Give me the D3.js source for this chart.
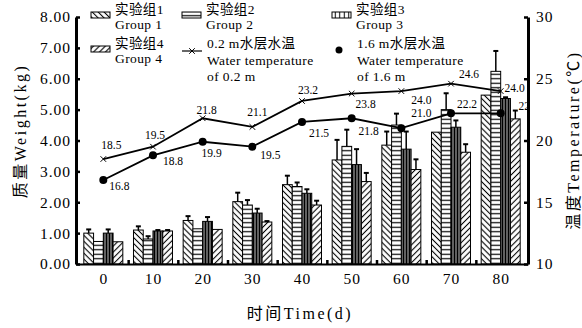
<!DOCTYPE html>
<html>
<head>
<meta charset="utf-8">
<script src="https://cdn.jsdelivr.net/npm/d3@7"></script>
<style>
	body { margin: 0; background: #fff; }
	svg text { font-family: "Liberation Serif", "Noto Sans CJK SC", serif; fill: #000; }
</style>
</head>
<body>
<div id="chart"></div>
<script>
// time (d)
var days = [0, 10, 20, 30, 40, 50, 60, 70, 80];
var xTicks = [0, 10, 20, 30, 40, 50, 60, 70, 80];
var xMidTicks = [5, 15, 25, 35, 45, 55, 65, 75];

// weight (kg), one list per group
var weight1 = [1.00, 1.10, 1.41, 2.02, 2.57, 3.37, 3.85, 4.27, 5.47];
var weight2 = [0.73, 0.81, 1.14, 1.91, 2.51, 3.81, 4.50, 5.00, 6.24];
var weight3 = [1.00, 1.07, 1.38, 1.65, 2.29, 3.22, 3.72, 4.43, 5.36];
var weight4 = [0.72, 1.07, 1.12, 1.36, 1.91, 2.67, 3.06, 3.62, 4.70];

// error bars (upper only)
var err1 = [0.12, 0.12, 0.14, 0.29, 0.29, 0.65, 0.44, 0.00, 0.00];
var err2 = [0.00, 0.09, 0.00, 0.16, 0.13, 0.54, 0.37, 0.53, 0.66];
var err3 = [0.12, 0.03, 0.14, 0.14, 0.13, 0.50, 0.57, 0.22, 0.04];
var err4 = [0.00, 0.03, 0.00, 0.03, 0.14, 0.28, 0.33, 0.26, 0.27];

// water temperature (℃)
var temp02 = [18.5, 19.5, 21.8, 21.1, 23.2, 23.8, 24.0, 24.6, 24.0];
var temp16 = [16.8, 18.8, 19.9, 19.5, 21.5, 21.8, 21.0, 22.2, 22.2];

// tick labels
var weightTicks = [0, 1, 2, 3, 4, 5, 6, 7, 8];
var tempTicks = [10, 15, 20, 25, 30];

var groupZh = ["实验组1", "实验组2", "实验组3", "实验组4"];
var groupEn = ["Group 1", "Group 2", "Group 3", "Group 4"];

!function() {
	var svg, plot, defs,
		x, xBar, yW, yT,
		width = 582,
		height = 328,
		left = 76, right = 528, top = 17, bottom = 264;

	// where each value label sits relative to its point (layout only)
	var labelOff02 = [[8,-14],[2,-12],[4,-8],[5,-15],[6,-11],[14,10],[20,9],[18,-10],[14,-3]];
	var labelOff16 = [[16,6],[20,6],[9,11],[18,8],[17,11],[17,13],[20,-15],[16,-9],[28,-7]];

	svg = d3.select("#chart").append("svg")
		.attr("width", width)
		.attr("height", height);

	defs = svg.append("defs");

	//line patterns for the bars
	function hatch(id, angle, size, bg, lw) {
		var p = defs.append("pattern")
			.attr("id", id)
			.attr("patternUnits", "userSpaceOnUse")
			.attr("width", size)
			.attr("height", size)
			.attr("patternTransform", "rotate(" + angle + ")");
		p.append("rect").attr("width", size).attr("height", size).attr("fill", bg);
		p.append("line")
			.attr("x1", size / 2).attr("x2", size / 2)
			.attr("y1", 0).attr("y2", size)
			.attr("stroke", "#000")
			.attr("stroke-width", lw);
	}
	hatch("p1", -45, 4.2, "#fff", 1.1);
	hatch("p2", 90, 4.5, "#fff", 1.2);
	hatch("p3", 0, 3, "#8a8a8a", 1.6);
	hatch("p4", 45, 4.2, "#fff", 1.1);
	hatch("p3l", 0, 4.5, "#fff", 1);
	var fills = ["url(#p1)", "url(#p2)", "url(#p3)", "url(#p4)"];

	defs.append("clipPath").attr("id", "clip")
		.append("rect")
		.attr("x", left).attr("y", 0)
		.attr("width", right - left).attr("height", bottom);

	//scales
	x = d3.scaleLinear().domain([-5.5, 85.5]).range([left, right]);
	xBar = d3.scaleBand().domain([0, 1, 2, 3]).range([-19.5, 19.5]);
	yW = d3.scaleLinear().domain([0, 8]).range([bottom, top]);
	yT = d3.scaleLinear().domain([10, 30]).range([bottom, top]);

	//bar data
	var series = [weight1, weight2, weight3, weight4];
	var errors = [err1, err2, err3, err4];
	var bars = [];
	days.forEach(function(d, i) {
		series.forEach(function(s, j) {
			bars.push({day: d, g: j, v: s[i], e: errors[j][i]});
		});
	});

	plot = svg.append("g");

	plot.selectAll("rect.bar")
		.data(bars)
		.enter()
		.append("rect")
		.attr("class", "bar")
		.attr("x", function(d) { return x(d.day) + xBar(d.g); })
		.attr("y", function(d) { return yW(d.v); })
		.attr("width", xBar.bandwidth())
		.attr("height", function(d) { return yW(0) - yW(d.v); })
		.attr("fill", function(d) { return fills[d.g]; })
		.attr("stroke", "#000")
		.attr("stroke-width", 1);

	//error bars
	var eb = plot.selectAll("g.err")
		.data(bars.filter(function(d) { return d.e > 0; }))
		.enter()
		.append("g")
		.attr("class", "err");
	eb.append("line")
		.attr("x1", function(d) { return x(d.day) + xBar(d.g) + xBar.bandwidth() / 2; })
		.attr("x2", function(d) { return x(d.day) + xBar(d.g) + xBar.bandwidth() / 2; })
		.attr("y1", function(d) { return yW(d.v); })
		.attr("y2", function(d) { return yW(d.v + d.e); })
		.attr("stroke", "#000")
		.attr("stroke-width", 1.5);
	eb.append("line")
		.attr("x1", function(d) { return x(d.day) + xBar(d.g) + xBar.bandwidth() / 2 - 2.5; })
		.attr("x2", function(d) { return x(d.day) + xBar(d.g) + xBar.bandwidth() / 2 + 2.5; })
		.attr("y1", function(d) { return yW(d.v + d.e); })
		.attr("y2", function(d) { return yW(d.v + d.e); })
		.attr("stroke", "#000")
		.attr("stroke-width", 2);

	//temperature lines
	var lines = svg.append("g").attr("clip-path", "url(#clip)");
	var line = d3.line()
		.x(function(d, i) { return x(days[i]); })
		.y(function(d) { return yT(d); });

	[temp02, temp16].forEach(function(t, k) {
		var offs = k === 0 ? labelOff02 : labelOff16;
		lines.append("path")
			.datum(t)
			.attr("d", line)
			.attr("fill", "none")
			.attr("stroke", "#000")
			.attr("stroke-width", 1.8);

		if (k === 0) {
			lines.selectAll("path.mk0")
				.data(t)
				.enter()
				.append("path")
				.attr("class", "mk0")
				.attr("d", d3.symbol(d3.symbolX, 22))
				.attr("transform", function(d, i) { return "translate(" + x(days[i]) + "," + yT(d) + ")"; })
				.attr("fill", "none")
				.attr("stroke", "#000")
				.attr("stroke-width", 1);
		} else {
			lines.selectAll("circle.mk1")
				.data(t)
				.enter()
				.append("circle")
				.attr("class", "mk1")
				.attr("cx", function(d, i) { return x(days[i]); })
				.attr("cy", function(d) { return yT(d); })
				.attr("r", 4)
				.attr("fill", "#000");
		}

		lines.selectAll("text.lab" + k)
			.data(t)
			.enter()
			.append("text")
			.attr("class", "lab" + k)
			.attr("x", function(d, i) { return x(days[i]) + offs[i][0]; })
			.attr("y", function(d, i) { return yT(d) + offs[i][1]; })
			.attr("dy", "0.35em")
			.attr("text-anchor", "middle")
			.attr("font-size", 11.5)
			.text(function(d) { return d.toFixed(1); });
	});

	//axes
	var axL = svg.append("g")
		.attr("transform", "translate(" + left + ",0)")
		.call(d3.axisLeft(yW).tickValues(weightTicks).tickFormat(d3.format(".2f"))
			.tickSizeInner(-4).tickSizeOuter(0).tickPadding(5));
	var axR = svg.append("g")
		.attr("transform", "translate(" + right + ",0)")
		.call(d3.axisRight(yT).tickValues(tempTicks)
			.tickSizeInner(-4).tickSizeOuter(0).tickPadding(8));
	var axB = svg.append("g")
		.attr("transform", "translate(0," + bottom + ")")
		.call(d3.axisBottom(x).tickValues(xTicks).tickSize(0).tickPadding(9));
	var axM = svg.append("g")
		.attr("transform", "translate(0," + bottom + ")")
		.call(d3.axisBottom(x).tickValues(xMidTicks).tickFormat("").tickSizeInner(-4).tickSizeOuter(0));
	axM.select(".domain").remove();

	[axL, axR, axB, axM].forEach(function(a) {
		a.attr("font-family", null).attr("font-size", null);
		a.selectAll("text").attr("font-size", 15.5).attr("letter-spacing", 1);
		a.selectAll(".tick line").attr("stroke-width", 2.5);
	});
	axL.select(".domain").attr("stroke-width", 3);
	axR.select(".domain").attr("stroke-width", 3);
	axB.select(".domain").attr("stroke-width", 2);

	//axis titles
	svg.append("text")
		.attr("transform", "translate(20,131) rotate(-90)")
		.attr("text-anchor", "middle").attr("dy", "0.35em")
		.attr("font-size", 16).attr("letter-spacing", 2.5)
		.text("质量Weight(kg)");
	svg.append("text")
		.attr("transform", "translate(573,140) rotate(-90)")
		.attr("text-anchor", "middle").attr("dy", "0.35em")
		.attr("font-size", 16).attr("letter-spacing", 2.5)
		.text("温度Temperature(℃)");
	svg.append("text")
		.attr("x", 300).attr("y", 313)
		.attr("text-anchor", "middle").attr("dy", "0.35em")
		.attr("font-size", 16).attr("letter-spacing", 2.5)
		.text("时间Time(d)");

	//legend
	var leg = svg.append("g").attr("font-size", 13.5).attr("letter-spacing", 0.4);
	var legCols = [91, 182, 332];
	var legFills = ["url(#p1)", "url(#p2)", "url(#p3l)", "url(#p4)"];
	[0, 1, 2, 3].forEach(function(j) {
		var cx = legCols[j % 3], cy = j < 3 ? 15 : 49;
		leg.append("rect")
			.attr("x", cx).attr("y", cy - 3)
			.attr("width", 19).attr("height", 6)
			.attr("fill", legFills[j])
			.attr("stroke", "#000").attr("stroke-width", 1);
		leg.append("text").attr("x", cx + 24).attr("y", cy - 6).attr("dy", "0.35em").text(groupZh[j]);
		leg.append("text").attr("x", cx + 24).attr("y", cy + 9).attr("dy", "0.35em").text(groupEn[j]);
	});

	//legend: 0.2 m line
	leg.append("line")
		.attr("x1", legCols[1]).attr("x2", legCols[1] + 20)
		.attr("y1", 51).attr("y2", 51)
		.attr("stroke", "#000").attr("stroke-width", 1.2);
	leg.append("path")
		.attr("d", d3.symbol(d3.symbolX, 22))
		.attr("transform", "translate(" + (legCols[1] + 10) + ",51)")
		.attr("stroke", "#000").attr("fill", "none");
	leg.append("text").attr("x", legCols[1] + 25).attr("y", 43).attr("dy", "0.35em").text("0.2 m水层水温");
	leg.append("text").attr("x", legCols[1] + 25).attr("y", 60).attr("dy", "0.35em").text("Water temperature");
	leg.append("text").attr("x", legCols[1] + 25).attr("y", 76).attr("dy", "0.35em").text("of 0.2 m");

	//legend: 1.6 m points
	leg.append("circle")
		.attr("cx", legCols[2] + 7).attr("cy", 50).attr("r", 3.5)
		.attr("fill", "#000");
	leg.append("text").attr("x", legCols[2] + 25).attr("y", 43).attr("dy", "0.35em").text("1.6 m水层水温");
	leg.append("text").attr("x", legCols[2] + 25).attr("y", 60).attr("dy", "0.35em").text("Water temperature");
	leg.append("text").attr("x", legCols[2] + 25).attr("y", 76).attr("dy", "0.35em").text("of 1.6 m");
}();
</script>
</body>
</html>
